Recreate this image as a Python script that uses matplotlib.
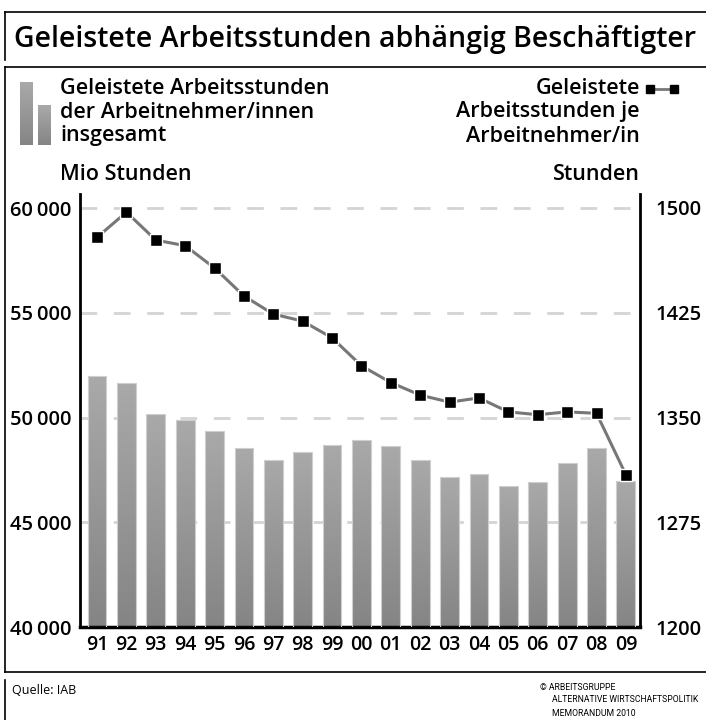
import numpy as np
import matplotlib.pyplot as plt
from matplotlib.lines import Line2D
from matplotlib.patches import Rectangle
from matplotlib.colors import LinearSegmentedColormap

# Daten
jahre = ['91', '92', '93', '94', '95', '96', '97', '98', '99', '00',
         '01', '02', '03', '04', '05', '06', '07', '08', '09']
stunden_gesamt = [51960, 51670, 50190, 49860, 49380, 48560, 47990, 48370, 48700, 48950,
                  48660, 47990, 47180, 47320, 46750, 46940, 47850, 48560, 46990]
stunden_je = [1479, 1497, 1477, 1473, 1457, 1437, 1424, 1419, 1407, 1387,
              1375, 1366, 1361, 1364, 1354, 1352, 1354, 1353, 1309]
links_ticks = [40000, 45000, 50000, 55000, 60000]
links_labels = ['40\u2009000', '45\u2009000', '50\u2009000', '55\u2009000', '60\u2009000']
rechts_ticks = [1200, 1275, 1350, 1425, 1500]

plt.rcParams['font.family'] = ['Open Sans', 'DejaVu Sans']

W, H = 706, 720
fig = plt.figure(figsize=(W / 100, H / 100), dpi=100)

def fx(x):
    return x / W

def fy(y):
    return 1 - y / H

grau = LinearSegmentedColormap.from_list('grau', ['#858585', '#a9a9a9'])

# Achsen
ax = fig.add_axes([fx(80), fy(627), fx(640) - fx(80), fy(194) - fy(627)])
x = np.arange(len(jahre))
breite = 0.64

# Gitterlinien
for t in links_ticks[1:]:
    ax.axhline(t, color='#d4d4d4', lw=2, dashes=(6, 6), zorder=0)

# Balken mit Verlauf
grad = np.linspace(0, 1, 100).reshape(-1, 1)
for xi, v in zip(x, stunden_gesamt):
    r = Rectangle((xi - breite / 2, 40000), breite, v - 40000,
                  facecolor='none', edgecolor='#cfcfcf', lw=0.8, zorder=3)
    ax.add_patch(r)
    im = ax.imshow(grad, extent=[xi - breite / 2, xi + breite / 2, 40000, v],
                   cmap=grau, aspect='auto', zorder=2, origin='lower')
    im.set_clip_path(r)
ax.set_xlim(-0.58, 18.48)
ax.set_ylim(40000, 60670)

ax.set_yticks(links_ticks)
ax.set_yticklabels(links_labels, fontsize=14.5, weight='semibold')
ax.set_xticks(x)
ax.set_xticklabels(jahre, fontsize=14, weight='semibold')
ax.tick_params(length=0, pad=6)
ax.tick_params(axis='y', pad=6)
for s in ['top', 'right']:
    ax.spines[s].set_visible(False)
ax.spines['left'].set_linewidth(2)
ax.spines['bottom'].set_linewidth(2.5)

ax2 = ax.twinx()
ax2.set_ylim(1200, 1510)
ax2.plot(x, stunden_je, color='#777777', lw=2.2, marker='s', markersize=9,
         markerfacecolor='black', markeredgecolor='white', markeredgewidth=1, zorder=5)
ax2.set_yticks(rechts_ticks)
ax2.set_yticklabels([str(t) for t in rechts_ticks], fontsize=14.5, weight='semibold')
ax2.tick_params(length=0, pad=11)
for s in ['top', 'left', 'bottom']:
    ax2.spines[s].set_visible(False)
ax2.spines['right'].set_linewidth(2)

# Titel und Rahmen
fig.text(fx(14), fy(40), 'Geleistete Arbeitsstunden abhängig Beschäftigter',
         fontsize=20.5, weight='semibold', va='center', ha='left')
linien = [((5, 706), (12, 12)), ((5, 5), (12, 60)), ((5, 706), (67, 67)),
          ((5, 5), (67, 672)), ((5, 706), (672, 672)), ((5, 5), (680, 720))]
for xs, ys in linien:
    fig.add_artist(Line2D([fx(xs[0]), fx(xs[1])], [fy(ys[0]), fy(ys[1])],
                          color='black', lw=1.2))

# Legende links
for (x0, y0, x1, y1) in [(20, 82, 33, 145), (38, 105, 51, 145)]:
    lax = fig.add_axes([fx(x0), fy(y1), fx(x1) - fx(x0), fy(y0) - fy(y1)])
    lax.imshow(grad, cmap=grau, aspect='auto', origin='lower')
    lax.axis('off')

txt = dict(fontsize=15.5, weight='semibold', va='center')
fig.text(fx(60), fy(88), 'Geleistete Arbeitsstunden', **txt)
fig.text(fx(60), fy(112), 'der Arbeitnehmer/innen', **txt)
fig.text(fx(60), fy(136), 'insgesamt', **txt)
fig.text(fx(60), fy(175), 'Mio Stunden', **txt)

# Legende rechts
fig.text(fx(640), fy(88), 'Geleistete', ha='right', **txt)
fig.text(fx(640), fy(112), 'Arbeitsstunden je', ha='right', **txt)
fig.text(fx(640), fy(136), 'Arbeitnehmer/in', ha='right', **txt)
fig.text(fx(640), fy(175), 'Stunden', ha='right', **txt)
fig.add_artist(Line2D([fx(650), fx(674)], [fy(89), fy(89)], color='#777777', lw=2,
                      marker='s', markersize=6, markerfacecolor='black',
                      markeredgecolor='black'))

# Fußzeile
fuss = dict(fontsize=6.2, va='center', family=['Roboto', 'DejaVu Sans'])
fig.text(fx(12), fy(690), 'Quelle: IAB', fontsize=9, va='center')
fig.text(fx(540), fy(687), '© ARBEITSGRUPPE', **fuss)
fig.text(fx(552), fy(700), 'ALTERNATIVE WIRTSCHAFTSPOLITIK', **fuss)
fig.text(fx(552), fy(713), 'MEMORANDUM 2010', **fuss)

plt.savefig('out.png', dpi=100)
